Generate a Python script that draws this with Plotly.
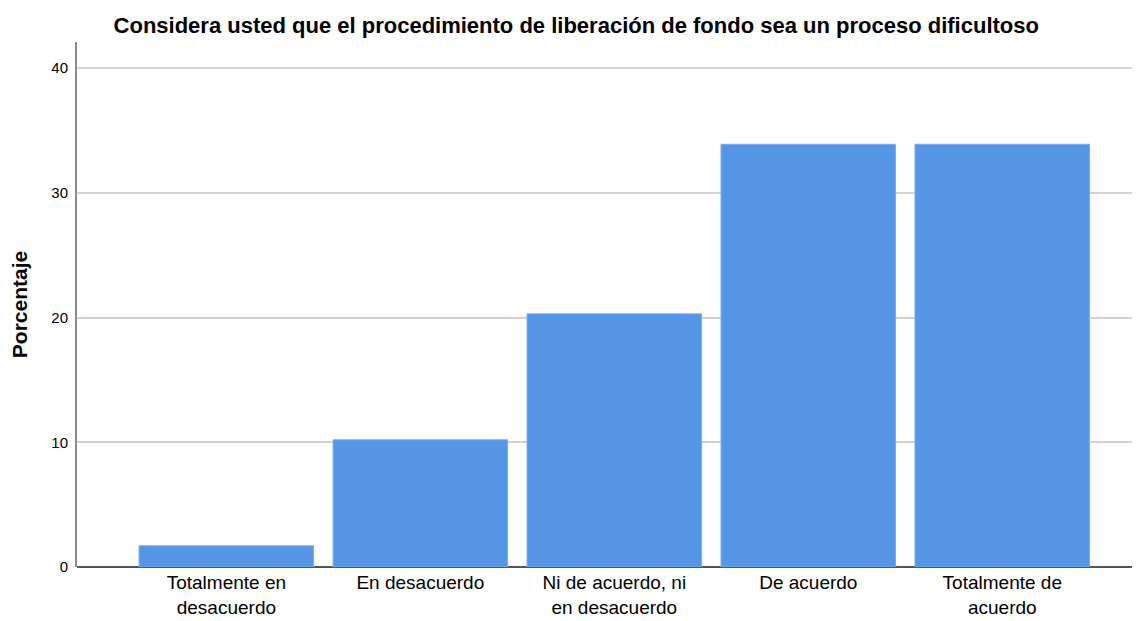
import plotly.graph_objects as go

categories = [
    "Totalmente en<br>desacuerdo",
    "En desacuerdo",
    "Ni de acuerdo, ni<br>en desacuerdo",
    "De acuerdo",
    "Totalmente de<br>acuerdo",
]
porcentaje = [1.7, 10.2, 20.3, 33.9, 33.9]
y_ticks = [0, 10, 20, 30, 40]

fig = go.Figure(
    go.Bar(
        x=categories,
        y=porcentaje,
        marker=dict(color="#5596E6", line=dict(color="#7AADEC", width=1)),
        width=0.9,
        hoverinfo="x+y",
    )
)

# the page body adds an 8px margin, so the figure is a bit smaller than the window
fig.update_layout(
    width=1132,
    height=613,
    paper_bgcolor="white",
    plot_bgcolor="white",
    font=dict(family="Liberation Sans, Arial, sans-serif", color="#000000"),
    title=dict(
        text="<b>Considera usted que el procedimiento de liberación de fondo sea un proceso dificultoso</b>",
        x=0.502,
        xanchor="center",
        y=0.972,
        yanchor="middle",
        font=dict(size=22, color="#000000"),
    ),
    margin=dict(l=69, r=0, t=34, b=54),
    showlegend=False,
    bargap=0.1,
)

fig.update_xaxes(
    range=[-0.77, 4.71],
    automargin=False,
    showline=False,
    showgrid=False,
    ticks="",
    ticklabelstandoff=2,
    tickfont=dict(size=19, color="#000000"),
)

fig.update_yaxes(
    range=[0, 42.1],
    automargin=False,
    tickvals=y_ticks,
    showgrid=True,
    gridcolor="#D3D3D3",
    gridwidth=2,
    showline=True,
    linecolor="#8C8C8C",
    linewidth=2,
    ticks="",
    ticklen=0,
    ticklabelstandoff=4,
    zeroline=True,
    zerolinecolor="#555555",
    zerolinewidth=1.5,
    tickfont=dict(size=15, color="#000000"),
    title=dict(text="<b>Porcentaje</b>", font=dict(size=21, color="#000000"), standoff=22),
)

fig.write_html("out.html")
